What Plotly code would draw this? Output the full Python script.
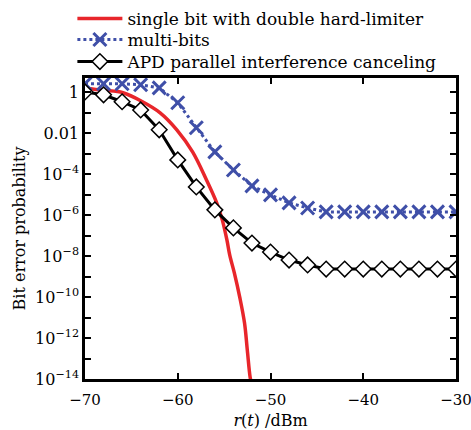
import plotly.graph_objects as go

# ---- data ----
power_markers = [-70, -68, -66, -64, -62, -60, -58, -56, -54, -52, -50,
                 -48, -46, -44, -42, -40, -38, -36, -34, -32, -30]

multi_bits_log = [0.42, 0.42, 0.42, 0.37, 0.22, -0.51, -1.73, -2.91, -3.79, -4.57, -5.01,
                  -5.40, -5.65, -5.84, -5.84, -5.84, -5.84, -5.84, -5.84, -5.84, -5.84]

apd_log = [0.02, -0.12, -0.46, -0.86, -1.83, -3.30, -4.62, -5.74, -6.62, -7.36, -7.80,
           -8.19, -8.43, -8.63, -8.63, -8.63, -8.63, -8.63, -8.63, -8.63, -8.63]

single_power = [-70, -68, -65.9, -63.8, -61.9, -60.1, -58.4, -56.9, -55.8, -55.2, -54.7,
                -54.4, -53.9, -53.3, -52.8, -52.5, -52.2, -52.1]
single_log = [0.2, 0.1, -0.02, -0.46, -1.0, -1.83, -2.91, -4.28, -5.40, -6.23, -7.21,
              -7.94, -8.82, -10.04, -11.27, -12.59, -13.9, -14.1]

y_tick_vals = [1, 0.1, 1e-2, 1e-3, 1e-4, 1e-5, 1e-6, 1e-7, 1e-8, 1e-9, 1e-10, 1e-11, 1e-12, 1e-13, 1e-14]
y_tick_text = ["1", "", "0.01", "", "10<sup>\u22124</sup>", "", "10<sup>\u22126</sup>", "",
               "10<sup>\u22128</sup>", "", "10<sup>\u221210</sup>", "", "10<sup>\u221212</sup>", "",
               "10<sup>\u221214</sup>"]
x_tick_vals = [-70, -60, -50, -40, -30]
x_tick_text = ["\u221270", "\u221260", "\u221250", "\u221240", "\u221230"]

series_names = ["single bit with double hard-limiter", "multi-bits",
                "APD parallel interference canceling"]

FONT = "DejaVu Serif"

fig = go.Figure()
fig.add_trace(go.Scatter(
    x=single_power, y=[10 ** v for v in single_log], mode="lines",
    name=series_names[0], line=dict(color="#e8262b", width=3.5, shape="spline"),
    legend="legend",
))
fig.add_trace(go.Scatter(
    x=power_markers, y=[10 ** v for v in multi_bits_log], mode="lines+markers",
    name=series_names[1], line=dict(color="#3f4fa8", width=3, dash="dot"),
    marker=dict(symbol="x-thin", size=13, color="#3f4fa8",
                line=dict(color="#3f4fa8", width=3)),
    legend="legend2",
))
fig.add_trace(go.Scatter(
    x=power_markers, y=[10 ** v for v in apd_log], mode="lines+markers",
    name=series_names[2], line=dict(color="black", width=3),
    marker=dict(symbol="diamond", size=12, color="white",
                line=dict(color="black", width=1.5)),
    legend="legend3",
))

axis_common = dict(
    showline=True, linecolor="black", linewidth=2.5, mirror="ticks",
    ticks="inside", ticklen=6, tickwidth=2, tickcolor="black",
    showgrid=False, zeroline=False,
)

fig.update_xaxes(range=[-70, -30], tickmode="array", tickvals=x_tick_vals,
                 ticktext=x_tick_text, ticklabeloverflow="allow",
                 ticklabelstandoff=5,
                 tickfont=dict(family=FONT, size=15, color="black"),
                 title=dict(text="<i>r</i>(<i>t</i>) /dBm", standoff=8,
                            font=dict(family=FONT, size=16, color="black")),
                 **axis_common)
fig.update_yaxes(type="log", range=[-14, 0.7], tickmode="array", tickvals=y_tick_vals,
                 ticktext=y_tick_text,
                 tickfont=dict(family=FONT, size=16, color="black"),
                 title=dict(text="Bit error probability", standoff=6,
                            font=dict(family=FONT, size=16, color="black")),
                 **axis_common)

leg_common = dict(x=-0.034, xanchor="left", yanchor="top",
                  bgcolor="rgba(0,0,0,0)",
                  font=dict(family=FONT, size=17, color="black"),
                  itemwidth=45)

fig.update_layout(
    width=471, height=430,
    margin=dict(l=85, r=15, t=78, b=51, autoexpand=False),
    paper_bgcolor="white", plot_bgcolor="white",
    font=dict(family=FONT, size=16, color="black"),
    showlegend=True,
    legend=dict(y=1.2558, **leg_common),
    legend2=dict(y=1.186, **leg_common),
    legend3=dict(y=1.113, **leg_common),
)

fig.write_html("out.html",
               config={"displayModeBar": False},
               post_script="document.body.style.margin='0';document.body.style.overflow='hidden';")
